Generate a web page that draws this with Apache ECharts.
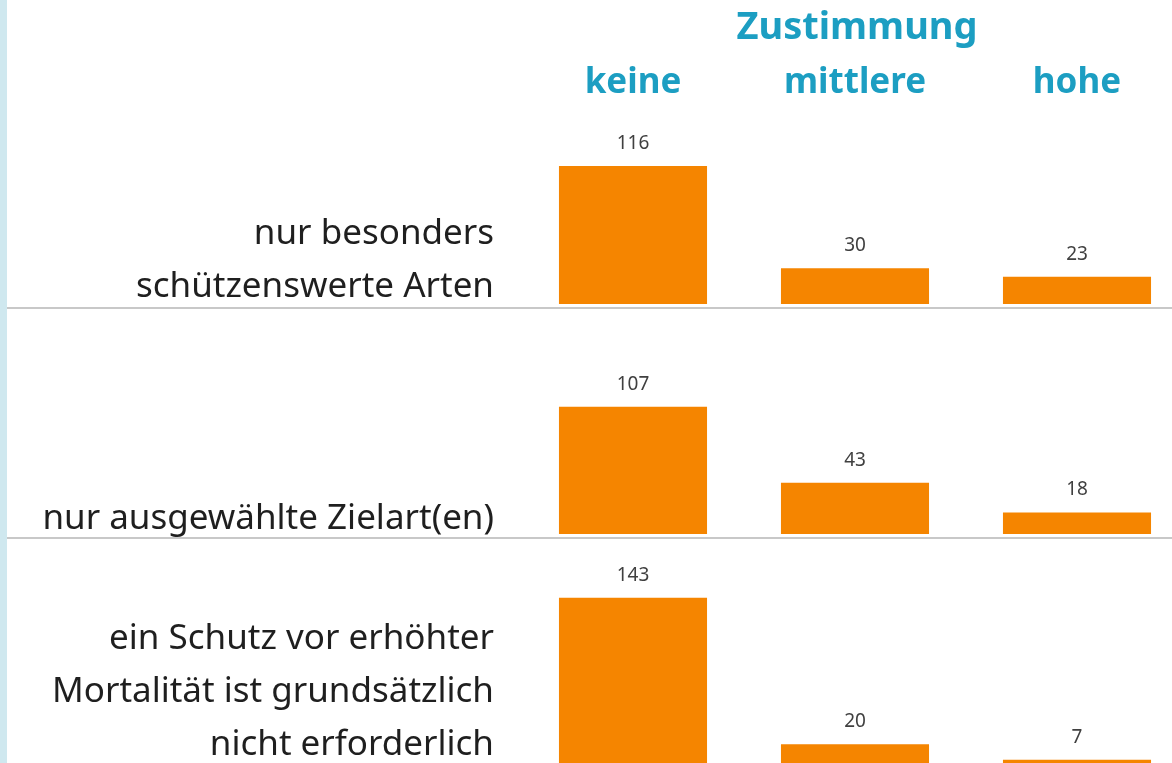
<!DOCTYPE html>
<html>
<head>
<meta charset="utf-8">
<script src="https://cdn.jsdelivr.net/npm/echarts@6/dist/echarts.min.js"></script>
<style>
html,body{margin:0;padding:0;background:#fff;}
#chart{width:1172px;height:763px;}
</style>
</head>
<body>
<div id="chart"></div>
<script>
const title = 'Zustimmung';
const levels = ['keine', 'mittlere', 'hohe'];
const rowLabels = [
  'nur besonders\nschützenswerte Arten',
  'nur ausgewählte Zielart(en)',
  'ein Schutz vor erhöhter\nMortalität ist grundsätzlich\nnicht erforderlich'
];
const row1 = [116, 30, 23];
const row2 = [107, 43, 18];
const row3 = [143, 20, 7];
const rowsData = [row1, row2, row3];

const teal = '#1c9ec2';
const orange = '#f58500';
const font = 'Noto Sans';

// layout (pixels)
const pxPerUnit = 1.19;
const baselines = [304, 534, 768];
const maxes = [150, 150, 200];
const labelTops = [208, 493, 613];

const chart = echarts.init(document.getElementById('chart'));

const grids = [], xAxes = [], yAxes = [], series = [];
rowsData.forEach((vals, i) => {
  const h = maxes[i] * pxPerUnit;
  grids.push({left: 522, width: 666, top: baselines[i] - h, height: h, containLabel: false, outerBoundsMode: 'none'});
  xAxes.push({
    type: 'category', gridIndex: i, data: levels,
    position: i === 0 ? 'top' : 'bottom',
    axisLine: {show: false}, axisTick: {show: false},
    axisLabel: i === 0 ? {show: true, color: teal, fontFamily: font, fontWeight: 'bold', fontSize: 35, margin: 25} : {show: false}
  });
  yAxes.push({type: 'value', gridIndex: i, min: 0, max: maxes[i], show: false, splitLine: {show: false}});
  series.push({
    type: 'bar', xAxisIndex: i, yAxisIndex: i, data: vals,
    barCategoryGap: '33.3%',
    itemStyle: {color: orange},
    label: {show: true, position: 'top', distance: 13, color: '#404040', fontFamily: font, fontSize: 19},
    silent: true, animation: false
  });
});

const titles = [{
  text: title, left: 857, top: 9, textAlign: 'center', padding: 0,
  textStyle: {color: teal, fontFamily: font, fontWeight: 'bold', fontSize: 38}
}];
rowLabels.forEach((t, i) => {
  titles.push({
    text: t, left: 494, top: labelTops[i], padding: 0, textAlign: 'right',
    textStyle: {color: '#1f1f1f', fontFamily: font, fontWeight: 'normal', fontSize: 35, lineHeight: 53, align: 'right'}
  });
});

chart.setOption({
  animation: false,
  title: titles,
  grid: grids,
  xAxis: xAxes,
  yAxis: yAxes,
  series: series,
  graphic: [
    {type: 'rect', shape: {x: 0, y: 0, width: 7, height: 763}, style: {fill: '#cfe8ef'}, silent: true},
    {type: 'line', shape: {x1: 7, y1: 308, x2: 1172, y2: 308}, style: {stroke: '#c8c8c8', lineWidth: 2}, silent: true},
    {type: 'line', shape: {x1: 7, y1: 538, x2: 1172, y2: 538}, style: {stroke: '#c8c8c8', lineWidth: 2}, silent: true}
  ]
});
</script>
</body>
</html>
